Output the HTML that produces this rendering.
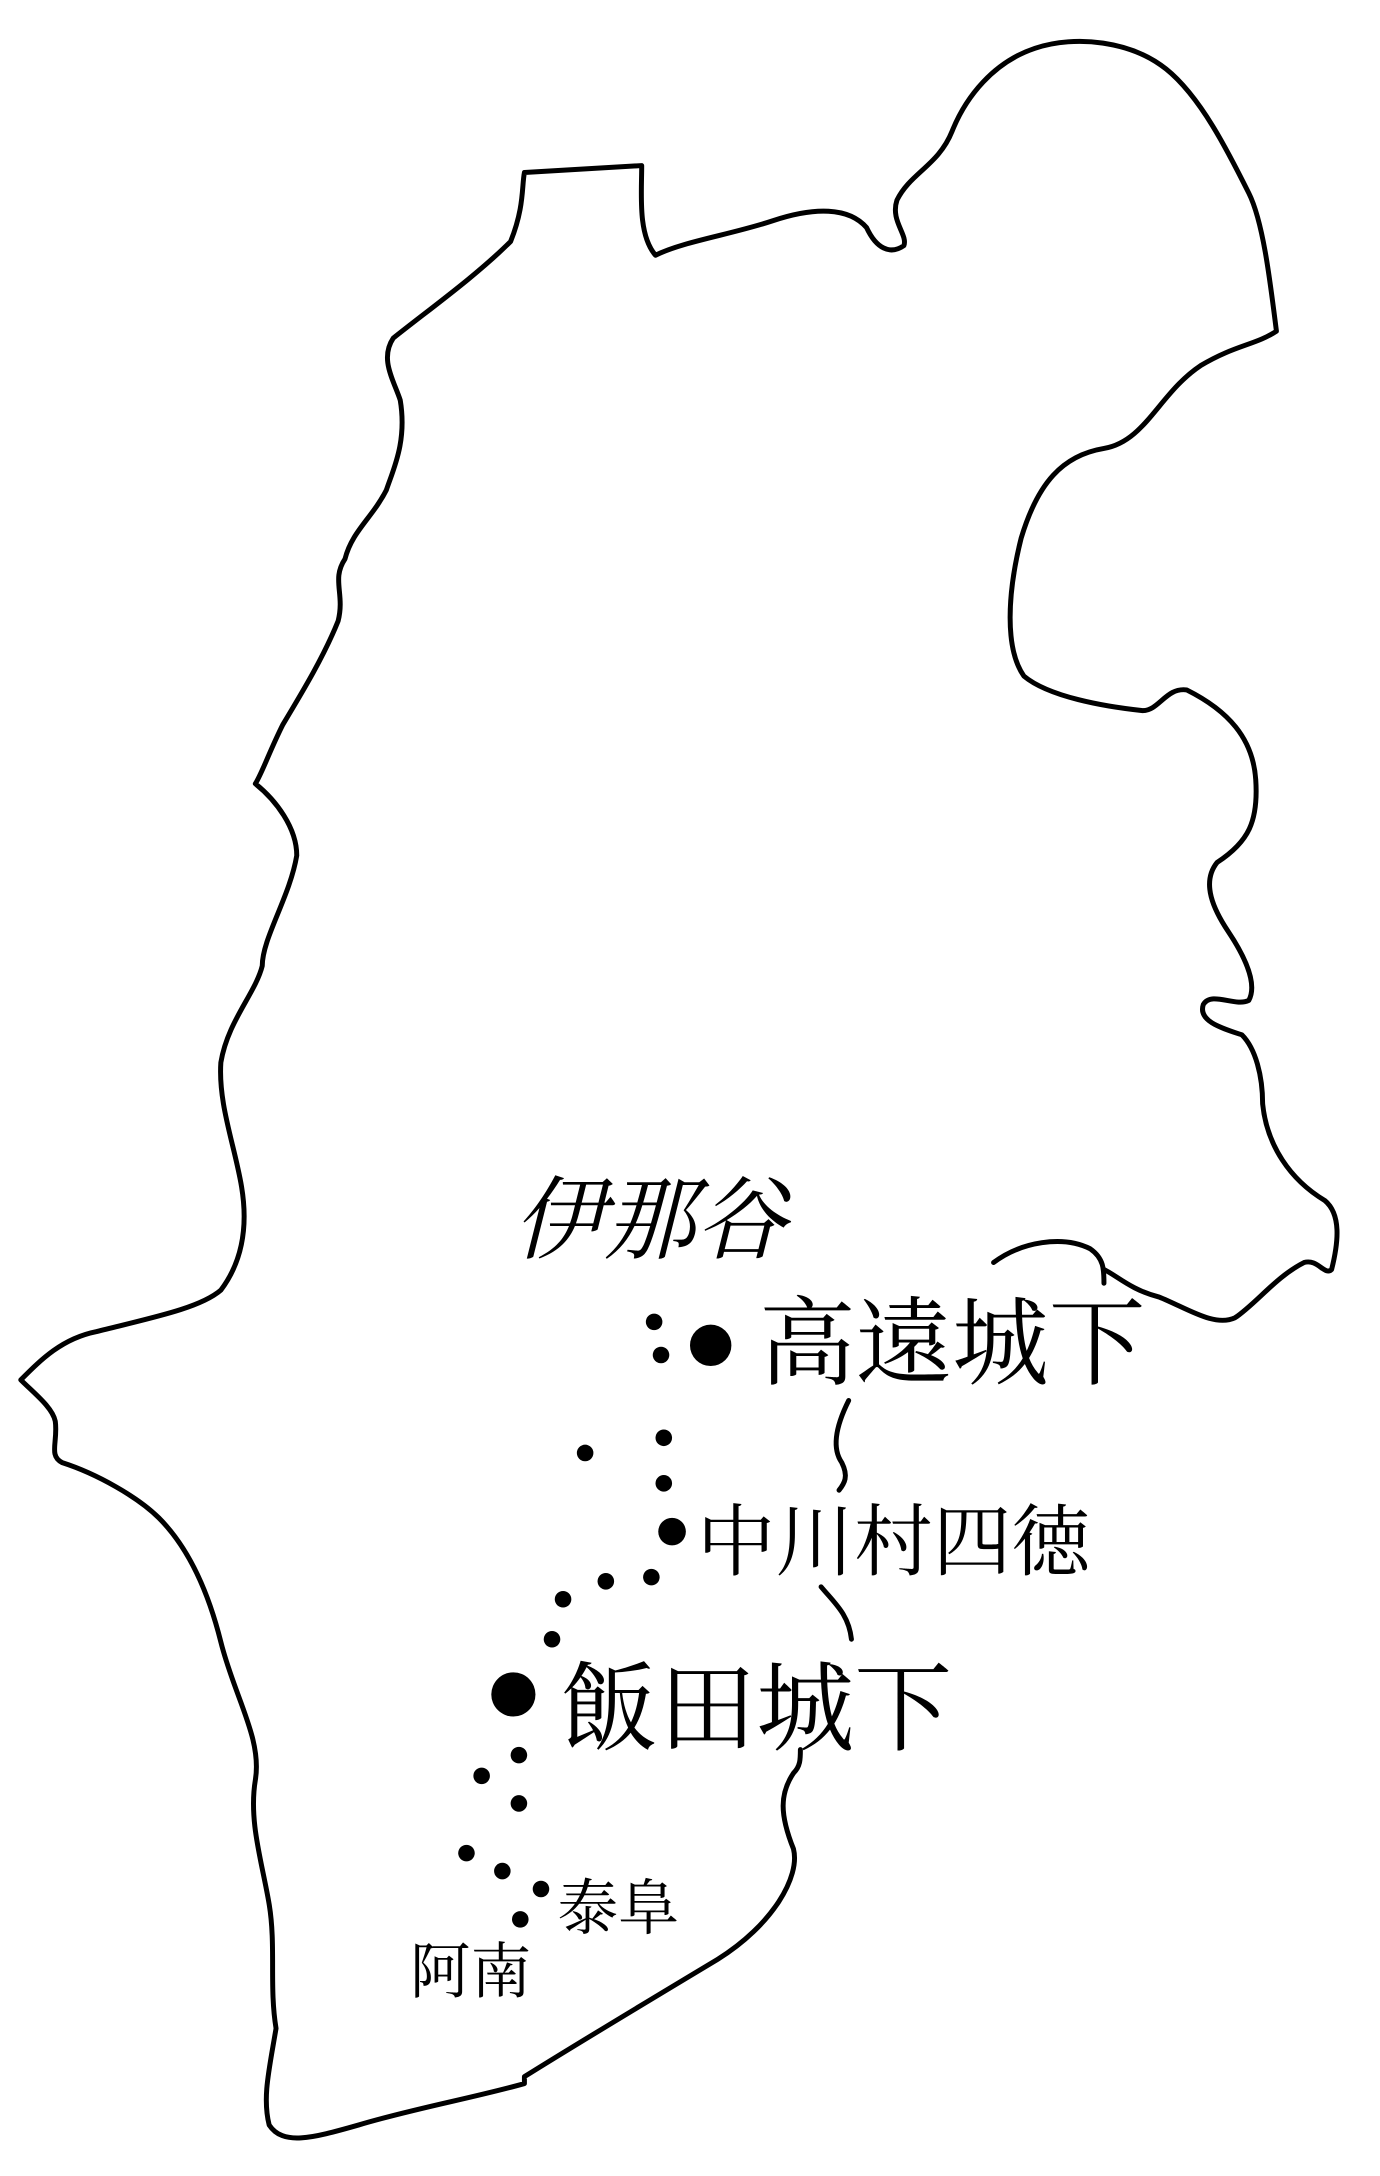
<!DOCTYPE html>
<html><head><meta charset="utf-8"><style>html,body{margin:0;padding:0;background:#fff}svg{display:block}</style></head>
<body>
<svg width="1380" height="2176" viewBox="0 0 1000 1577" xmlns="http://www.w3.org/2000/svg">
<g fill="none" stroke="#000" stroke-width="3.6" stroke-linejoin="round" stroke-linecap="round">
<path d="M840,940 C820,935 810,925 800,920 M840,940 C860,948 880,962 895,955 C910,945 925,925 945,915 C955,912 960,925 965,920 C970,900 972,880 960,870 C935,855 918,830 915,800 C915,780 910,760 900,750 C885,745 868,740 872,728 C878,718 895,730 905,725 C912,712 900,690 890,675 C880,660 870,640 882,625 C905,610 912,595 910,565 C908,535 890,515 860,500 C845,498 840,515 828,515 C800,512 760,505 742,490 C728,470 730,430 740,390 C752,350 770,330 800,325 C830,320 840,285 870,265 C895,250 910,250 925,240 C920,200 915,160 905,140 C890,110 870,70 845,50 C820,30 780,25 750,35 C720,45 700,70 690,95 C680,120 660,125 650,145 C645,160 658,170 655,178 C645,185 635,180 628,165 C615,150 590,150 560,160 C530,170 495,175 475,185 C462,170 465,140 465,120 L380,125 C378,135 380,150 370,175 C345,200 310,225 285,245 C275,260 285,275 290,290 C295,320 285,340 280,355 C270,375 255,385 250,405 C240,420 250,430 245,450 C235,475 220,500 205,525 C195,545 190,560 185,568 C200,580 215,600 215,620 C210,650 190,680 190,700 C185,720 165,740 160,770 C158,800 170,830 175,860 C180,890 175,915 160,935 C145,948 110,955 70,965 C45,970 30,985 15,1000 C25,1010 38,1020 40,1030 C42,1045 35,1055 45,1060 C70,1068 100,1085 115,1100 C135,1120 150,1150 160,1190 C170,1230 190,1260 185,1290 C180,1320 190,1350 195,1380 C200,1410 195,1440 200,1470 C195,1500 190,1520 195,1540 C205,1555 225,1550 260,1540 C300,1528 345,1520 380,1510 L380,1505 C420,1480 470,1450 520,1420 C560,1395 580,1360 575,1340 C565,1315 565,1300 575,1285 C580,1280 580,1275 580,1268"/>
<path d="M720,915 C740,900 770,895 790,905 C800,912 800,920 800,930"/>
<path d="M615,1015 C605,1035 603,1050 610,1060 C615,1070 612,1075 608,1080"/>
<path d="M595,1150 C605,1162 615,1170 617,1188"/>
</g>
<g fill="#000">
<circle cx="515" cy="975" r="15"/>
<circle cx="372" cy="1228" r="16"/>
<circle cx="487" cy="1110" r="10"/>
<g>
<circle cx="474" cy="958" r="6"/><circle cx="479" cy="982" r="6"/><circle cx="424" cy="1053" r="6"/><circle cx="481" cy="1042" r="6"/><circle cx="481" cy="1075" r="6"/><circle cx="472" cy="1143" r="6"/><circle cx="439" cy="1146" r="6"/><circle cx="408" cy="1159" r="6"/><circle cx="400" cy="1188" r="6"/><circle cx="376" cy="1272" r="6"/><circle cx="349" cy="1287" r="6"/><circle cx="376" cy="1307" r="6"/><circle cx="338" cy="1343" r="6"/><circle cx="364" cy="1356" r="6"/><circle cx="392" cy="1369" r="6"/><circle cx="377" cy="1391" r="6"/>
</g>
</g>
<g font-family="'Liberation Serif','Noto Serif CJK SC',serif" fill="#000">
<text x="372" y="907" font-size="66" font-style="italic">伊那谷</text>
<text x="550" y="998" font-size="70">高遠城下</text>
<text x="505" y="1137" font-size="57">中川村四徳</text>
<text x="406" y="1263" font-size="71">飯田城下</text>
<text x="404" y="1398" font-size="44">泰阜</text>
<text x="297" y="1444" font-size="44">阿南</text>
</g>
</svg>
</body></html>
